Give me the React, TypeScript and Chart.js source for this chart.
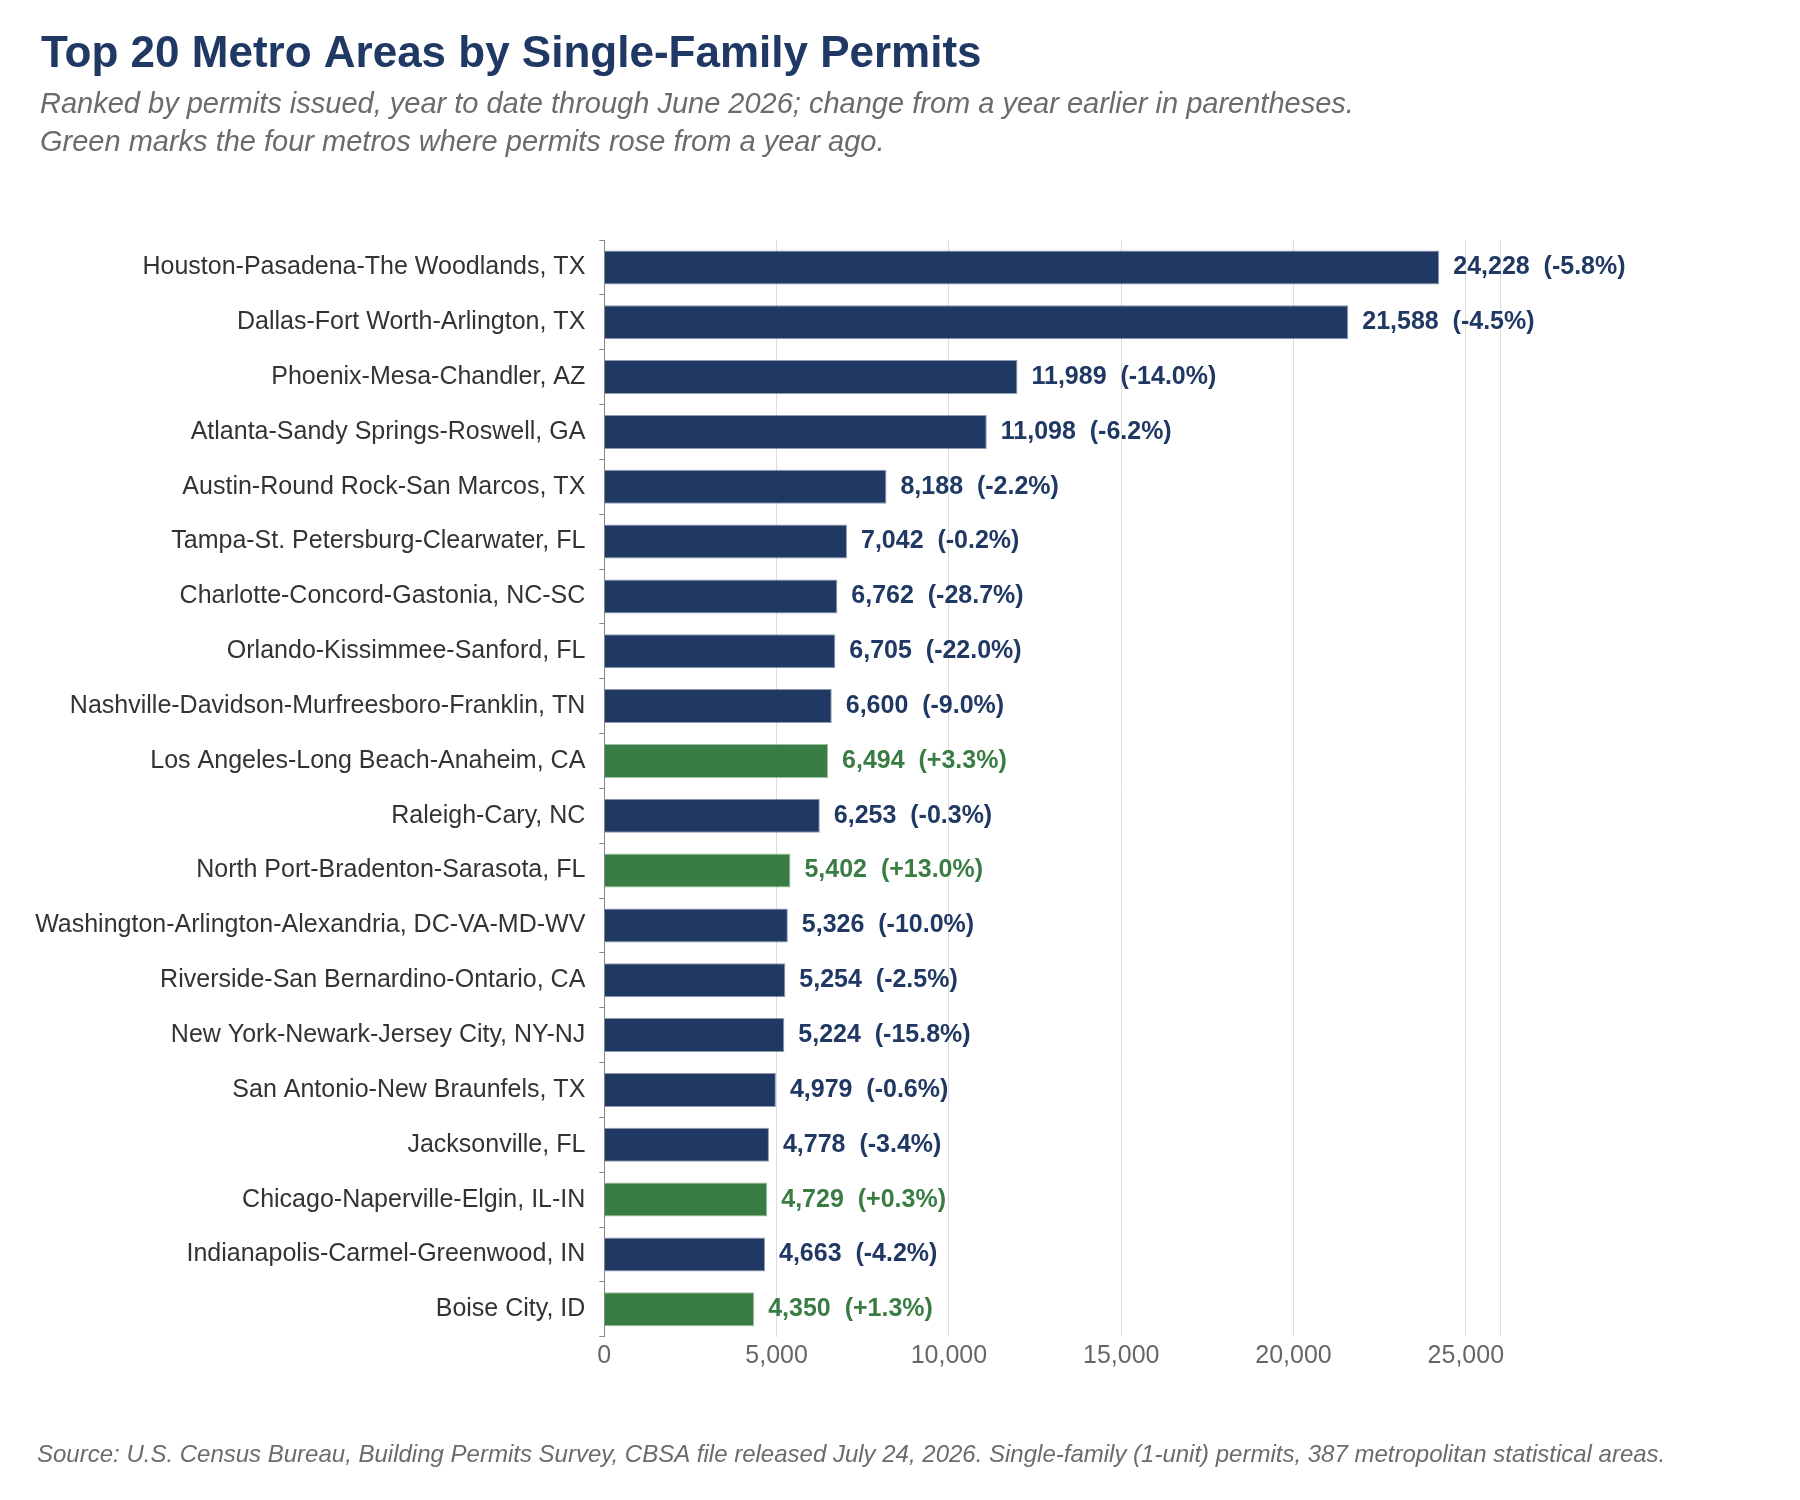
import { useEffect, useRef } from "react"
import { Chart, ChartConfiguration, Plugin, registerables } from "chart.js"

Chart.register(...registerables)

// metros ranked by YTD single-family permits (through June 2026)
const metros = [
	"Houston-Pasadena-The Woodlands, TX",
	"Dallas-Fort Worth-Arlington, TX",
	"Phoenix-Mesa-Chandler, AZ",
	"Atlanta-Sandy Springs-Roswell, GA",
	"Austin-Round Rock-San Marcos, TX",
	"Tampa-St. Petersburg-Clearwater, FL",
	"Charlotte-Concord-Gastonia, NC-SC",
	"Orlando-Kissimmee-Sanford, FL",
	"Nashville-Davidson-Murfreesboro-Franklin, TN",
	"Los Angeles-Long Beach-Anaheim, CA",
	"Raleigh-Cary, NC",
	"North Port-Bradenton-Sarasota, FL",
	"Washington-Arlington-Alexandria, DC-VA-MD-WV",
	"Riverside-San Bernardino-Ontario, CA",
	"New York-Newark-Jersey City, NY-NJ",
	"San Antonio-New Braunfels, TX",
	"Jacksonville, FL",
	"Chicago-Naperville-Elgin, IL-IN",
	"Indianapolis-Carmel-Greenwood, IN",
	"Boise City, ID"
]

const permits = [
	24228, 21588, 11989, 11098, 8188, 7042, 6762, 6705, 6600, 6494, 6253, 5402, 5326, 5254, 5224, 4979, 4778, 4729,
	4663, 4350
]

// % change from a year earlier
const changes = [
	-5.8, -4.5, -14.0, -6.2, -2.2, -0.2, -28.7, -22.0, -9.0, 3.3, -0.3, 13.0, -10.0, -2.5, -15.8, -0.6, -3.4, 0.3, -4.2,
	1.3
]

const xTicks = [0, 5000, 10000, 15000, 20000, 25000]
const xMax = 26000

const title = "Top 20 Metro Areas by Single-Family Permits"
const subtitleLines = [
	"Ranked by permits issued, year to date through June 2026; change from a year earlier in parentheses.",
	"Green marks the four metros where permits rose from a year ago."
]
const source =
	"Source: U.S. Census Bureau, Building Permits Survey, CBSA file released July 24, 2026. Single-family (1-unit) permits, 387 metropolitan statistical areas."

const FONT = "'Liberation Sans', Arial, sans-serif"
const NAVY = "#203864"
const GREEN = "#3a7d44"

const barColors = changes.map((c) => (c > 0 ? GREEN : NAVY))
const edgeColors = changes.map((c) => (c > 0 ? "rgba(58, 125, 68, 0.5)" : "rgba(32, 56, 100, 0.5)"))

const fmtChange = (c: number) => `(${c > 0 ? "+" : ""}${c.toFixed(1)}%)`

const valueLabels: Plugin<"bar"> = {
	id: "valueLabels",
	afterDatasetsDraw(chart) {
		const { ctx } = chart
		const meta = chart.getDatasetMeta(0)
		ctx.save()
		ctx.font = `bold 25px ${FONT}`
		ctx.textBaseline = "middle"
		ctx.textAlign = "left"
		meta.data.forEach((bar, i) => {
			ctx.fillStyle = barColors[i]
			ctx.fillText(`${permits[i].toLocaleString("en-US")}  ${fmtChange(changes[i])}`, bar.x + 14, bar.y)
		})
		ctx.restore()
	}
}

const headerFooter: Plugin<"bar"> = {
	id: "headerFooter",
	afterDraw(chart) {
		const { ctx } = chart
		ctx.save()
		ctx.textAlign = "left"
		ctx.textBaseline = "alphabetic"

		ctx.fillStyle = "#1f3864"
		ctx.font = `bold 44px ${FONT}`
		ctx.fillText(title, 41, 67)

		ctx.fillStyle = "#6b6b6b"
		ctx.font = `italic 29px ${FONT}`
		subtitleLines.forEach((line, i) => ctx.fillText(line, 40, 113 + i * 38))

		ctx.font = `italic 24px ${FONT}`
		ctx.fillText(source, 37, 1462)
		ctx.restore()
	}
}

const config: ChartConfiguration<"bar"> = {
	type: "bar",
	data: {
		labels: metros,
		datasets: [
			{
				data: permits,
				backgroundColor: barColors,
				borderColor: edgeColors,
				borderWidth: 1,
				borderSkipped: "start",
				barPercentage: 0.62,
				categoryPercentage: 1
			}
		]
	},
	options: {
		indexAxis: "y",
		responsive: false,
		animation: false,
		devicePixelRatio: 1,
		layout: {
			padding: { top: 240, right: 299.7, bottom: 103.3, left: 0 }
		},
		plugins: {
			legend: { display: false },
			tooltip: { enabled: false }
		},
		scales: {
			x: {
				type: "linear",
				min: 0,
				max: xMax,
				afterBuildTicks: (scale) => {
					scale.ticks = [...xTicks, xMax].map((value) => ({ value }))
				},
				afterFit: (scale) => {
					scale.height = 60
				},
				border: { display: false },
				grid: { color: "#dddddd", drawTicks: false, lineWidth: 1 },
				ticks: {
					autoSkip: false,
					maxRotation: 0,
					padding: 4,
					color: "#666666",
					font: { family: FONT, size: 25 },
					callback: (v) => (Number(v) === xMax ? "" : Number(v).toLocaleString("en-US"))
				}
			},
			y: {
				afterFit: (scale) => {
					scale.width = 604.3
				},
				border: { display: true, color: "#888888", width: 1 },
				grid: { drawOnChartArea: false, drawTicks: true, tickLength: 5, color: "#888888" },
				ticks: {
					padding: 14,
					color: "#333333",
					font: { family: FONT, size: 25 }
				}
			}
		}
	},
	plugins: [valueLabels, headerFooter]
}

export default function App() {
	const canvasRef = useRef<HTMLCanvasElement>(null)

	useEffect(() => {
		document.body.style.margin = "0"
		const ctx = canvasRef.current?.getContext("2d") as CanvasRenderingContext2D
		const chart = new Chart(ctx, config)

		return () => {
			chart.destroy()
		}
	}, [])

	return (
		<div style={{ width: 1800, height: 1500 }}>
			<canvas ref={canvasRef} width={1800} height={1500} style={{ display: "block" }}>
				Your browser does not support the canvas element.
			</canvas>
		</div>
	)
}
